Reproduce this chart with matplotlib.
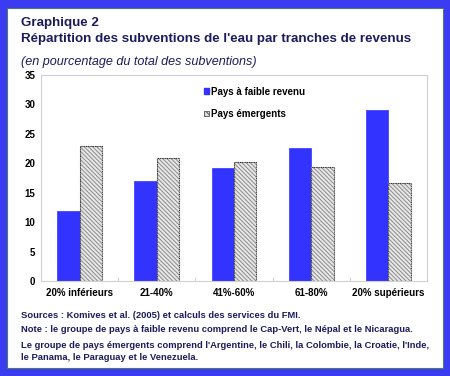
import matplotlib
matplotlib.use('Agg')
import matplotlib.pyplot as plt
from matplotlib.patches import Rectangle, Patch
import numpy as np

plt.rcParams['font.family'] = ['Liberation Sans', 'DejaVu Sans']
plt.rcParams['hatch.linewidth'] = 0.7

categories = ['20% inférieurs', '21-40%', '41%-60%', '61-80%', '20% supérieurs']
faible_revenu = [11.9, 17.0, 19.25, 22.65, 29.05]
emergents = [23.0, 20.9, 20.3, 19.4, 16.6]
y_ticks = [0, 5, 10, 15, 20, 25, 30, 35]

border_blue = '#3b3bf2'
bar_blue = '#3333ff'
navy = '#1c1c5c'

fig = plt.figure(figsize=(4.5, 3.76), dpi=100, facecolor=border_blue)
fig.patches.append(Rectangle((7 / 450, 8 / 376), 436 / 450, 360 / 376,
                             transform=fig.transFigure, facecolor='white',
                             edgecolor='#4a7a6a', linewidth=0.8, zorder=-5))

ax = fig.add_axes([41 / 450, 95 / 376, 386 / 450, 206 / 376])
ax.set_zorder(2)
ax.patch.set_alpha(0)
x = np.arange(len(categories))
w = 0.29
ax.bar(x - w / 2, faible_revenu, w, color=bar_blue, edgecolor=bar_blue,
       linewidth=0.5)
# hatch in grey, outline drawn separately in dark grey
ax.bar(x + w / 2, emergents, w, color='#e8e8e8', edgecolor='#8a8a8a',
       hatch='\\\\\\\\\\\\\\\\', linewidth=0)
ax.bar(x + w / 2, emergents, w, fill=False, edgecolor='#333333',
       linewidth=0.8, linestyle=(0, (1, 0.6)))

ax.set_xlim(-0.5, len(categories) - 0.5)
ax.set_ylim(0, 35)
ax.set_yticks(y_ticks)
ax.set_yticklabels([str(v) for v in y_ticks], fontsize=7, fontweight='bold')
ax.set_xticks(x)
ax.set_xticklabels(categories, fontsize=7, fontweight='bold')
ax.set_xticks(np.arange(0.5, len(categories) - 1), minor=True)
ax.tick_params(axis='x', which='major', length=0, pad=5)
ax.tick_params(axis='x', which='minor', length=3, direction='in', color='#cccccc')
ax.tick_params(axis='y', length=0, pad=4)
for s in ax.spines.values():
    s.set_color('#d0d0d0')
    s.set_linewidth(0.8)

handles = [Patch(facecolor=bar_blue, edgecolor=bar_blue, label='Pays à faible revenu'),
           Patch(facecolor='#e0e0e0', edgecolor='#555555', hatch='\\\\\\\\\\\\',
                 linewidth=0.6, label='Pays émergents')]
leg = ax.legend(handles=handles, loc='upper left', bbox_to_anchor=(0.40, 0.985),
                frameon=False, prop={'weight': 'bold', 'size': 7},
                handlelength=0.55, handleheight=0.55, handletextpad=0.2,
                labelspacing=1.25)

fig.text(21 / 450, 1 - 23 / 376, 'Graphique 2', fontsize=9.6, fontweight='bold',
         color=navy, va='center')
fig.text(21 / 450, 1 - 39 / 376, "Répartition des subventions de l'eau par tranches de revenus",
         fontsize=9.6, fontweight='bold', color=navy, va='center')
fig.text(21 / 450, 1 - 62 / 376, '(en pourcentage du total des subventions)',
         fontsize=9.1, style='italic', color=navy, va='center')

notes = [
    'Sources : Komives et al. (2005) et calculs des services du FMI.',
    'Note : le groupe de pays à faible revenu comprend le Cap-Vert, le Népal et le Nicaragua.',
    "Le groupe de pays émergents comprend l'Argentine, le Chili, la Colombie, la Croatie, l'Inde,",
    'le Panama, le Paraguay et le Venezuela.',
]
ys = [316, 330, 345, 358]
for t, yy in zip(notes, ys):
    fig.text(21 / 450, 1 - yy / 376, t, fontsize=6.77, fontweight='bold',
             color=navy, va='center')

fig.savefig('out.png', dpi=100, facecolor=fig.get_facecolor())
